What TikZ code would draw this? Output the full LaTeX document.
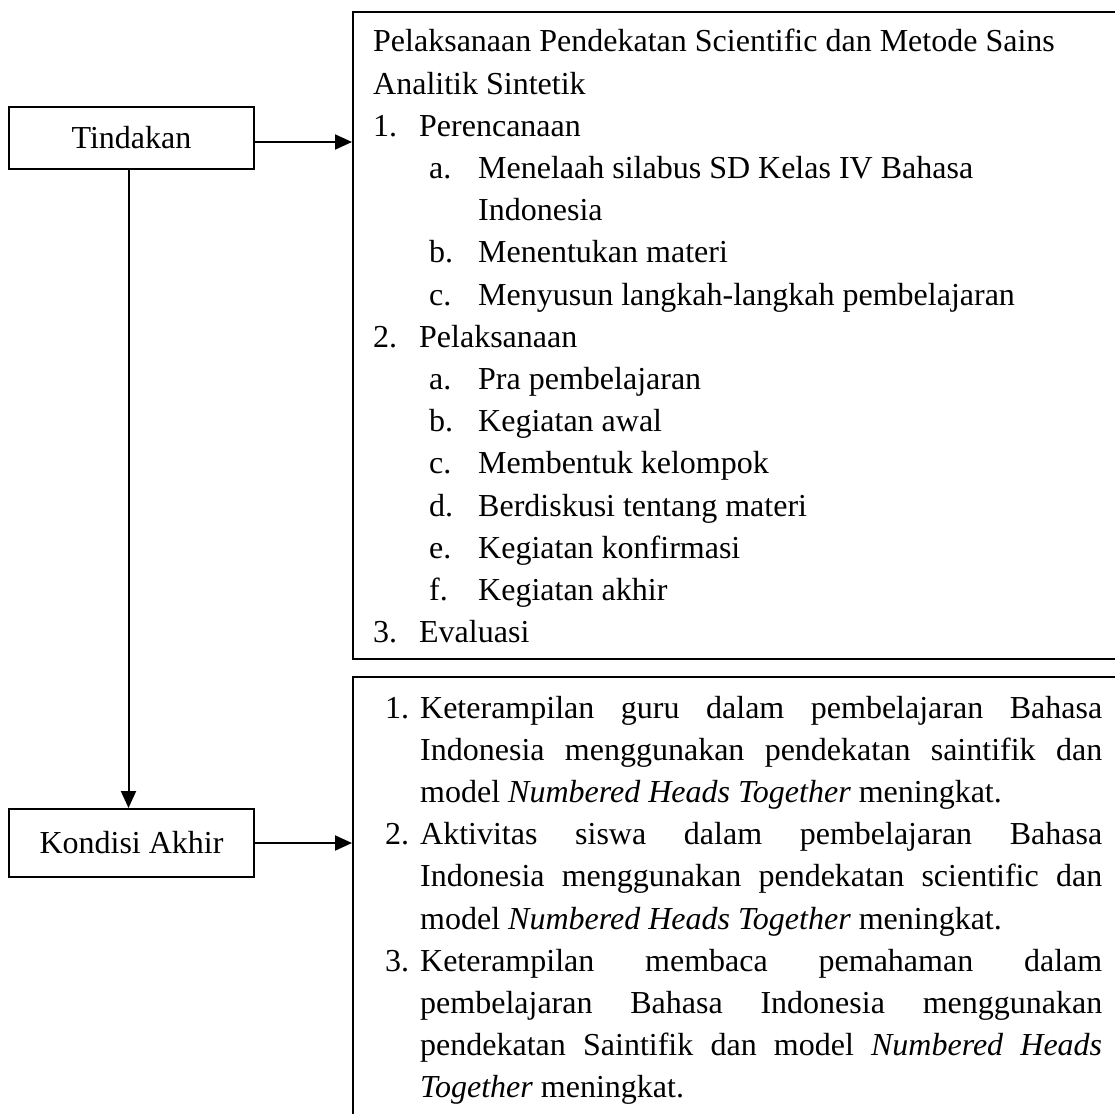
\documentclass[tikz,border=0pt]{standalone}
\usepackage{fontspec}
\setmainfont{Liberation Serif}
\usetikzlibrary{arrows.meta}

% list lines
\newcommand{\numln}[2]{\makebox[46pt][l]{#1}#2}
\newcommand{\subln}[2]{\hspace*{56pt}\makebox[49pt][l]{#1}#2}
\newcommand{\contln}[1]{\hspace*{105pt}#1}
\newcommand{\jln}[1]{\makebox[682pt][s]{#1}}

\tikzset{
  box/.style={draw,line width=2pt,inner sep=0pt},
  arr/.style={line width=2pt,-{Triangle[length=17pt,width=15pt]}},
  txt/.style={inner sep=0pt,anchor=base west,text width=760pt,align=left,
    execute at begin node={\spaceskip=0pt\xspaceskip=0pt}}
}

\begin{document}
\begin{tikzpicture}[x=1pt,y=-1pt,font=\fontsize{32}{42.2}\selectfont]
\useasboundingbox (0,0) rectangle (1115,1113);
\clip (0,0) rectangle (1115,1113);
\node[box,minimum width=245pt,minimum height=62pt] (tindakan) at (131.5,138) {Tindakan};
\node[box,minimum width=245pt,minimum height=68pt] (kondisi) at (131.5,843) {Kondisi Akhir};
\node[box,anchor=north west,minimum width=800pt,minimum height=647pt] (rencana) at (352,11) {};
\node[box,anchor=north west,minimum width=800pt,minimum height=480pt] (hasil) at (352,676) {};
\node[txt] (isirencana) at (373,52) {%
Pelaksanaan Pendekatan Scientific dan Metode Sains\\
Analitik Sintetik\\
\numln{1.}{Perencanaan}\\
\subln{a.}{Menelaah silabus SD Kelas IV Bahasa}\\
\contln{Indonesia}\\
\subln{b.}{Menentukan materi}\\
\subln{c.}{Menyusun langkah-langkah pembelajaran}\\
\numln{2.}{Pelaksanaan}\\
\subln{a.}{Pra pembelajaran}\\
\subln{b.}{Kegiatan awal}\\
\subln{c.}{Membentuk kelompok}\\
\subln{d.}{Berdiskusi tentang materi}\\
\subln{e.}{Kegiatan konfirmasi}\\
\subln{f.}{Kegiatan akhir}\\
\numln{3.}{Evaluasi}};
\node[txt] (isihasil) at (385,718) {%
\makebox[35pt][l]{1.}\jln{Keterampilan guru dalam pembelajaran Bahasa}\\
\hspace*{35pt}\jln{Indonesia menggunakan pendekatan saintifik dan}\\
\hspace*{35pt}model \textit{Numbered Heads Together} meningkat.\\
\makebox[35pt][l]{2.}\jln{Aktivitas siswa dalam pembelajaran Bahasa}\\
\hspace*{35pt}\jln{Indonesia menggunakan pendekatan scientific dan}\\
\hspace*{35pt}model \textit{Numbered Heads Together} meningkat.\\
\makebox[35pt][l]{3.}\jln{Keterampilan membaca pemahaman dalam}\\
\hspace*{35pt}\jln{pembelajaran Bahasa Indonesia menggunakan}\\
\hspace*{35pt}\jln{pendekatan Saintifik dan model \textit{Numbered Heads}}\\
\hspace*{35pt}\textit{Together} meningkat.};
\draw[arr] ([yshift=-4pt]tindakan.east) -- ([yshift=-4pt]tindakan.east -| rencana.west);
\draw[arr] ([xshift=-3pt]tindakan.south) -- ([xshift=-3pt]kondisi.north);
\draw[arr] (kondisi.east) -- (kondisi.east -| hasil.west);
\end{tikzpicture}
\end{document}
